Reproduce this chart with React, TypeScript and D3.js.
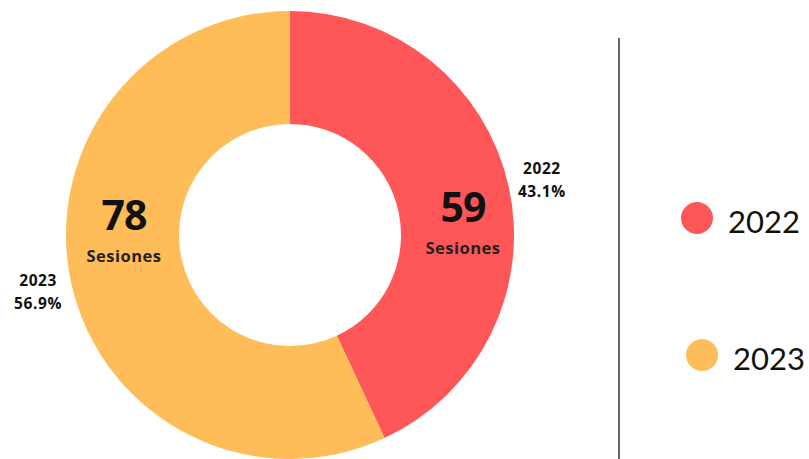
import React from 'react';
import * as d3 from 'd3';

const years = ['2022', '2023'];
const sessions = [59, 78];
const colors = ['#FF5757', '#FFBD59'];
const unitLabel = 'Sesiones';

interface Slice {
  year: string;
  value: number;
  color: string;
}

const slices: Slice[] = years.map((y, i) => ({ year: y, value: sessions[i], color: colors[i] }));

export default function App() {
  const width = 809;
  const height = 459;
  const cx = 290;
  const cy = 235;
  const outerR = 224;
  const innerR = 111;

  const pie = d3.pie<Slice>().value(d => d.value).sort(null);
  const arcs = pie(slices);
  const arc = d3.arc<d3.PieArcDatum<Slice>>().innerRadius(innerR).outerRadius(outerR);
  const labelArc = d3.arc<d3.PieArcDatum<Slice>>().innerRadius(258).outerRadius(258);
  const total = d3.sum(sessions);
  const pct = d3.format('.1f');

  // inner value labels sit near the horizontal middle of each ring side
  const innerPos = [
    { x: 463, y: 0 },
    { x: 124, y: 8 },
  ];

  const font = "'Open Sans', 'Noto Sans', sans-serif";

  return (
    <svg
      width={width}
      height={height}
      style={{ position: 'absolute', left: 0, top: 0, background: '#fff' }}
    >
      <g transform={`translate(${cx},${cy})`}>
        {arcs.map(a => (
          <path key={a.data.year} d={arc(a) as string} fill={a.data.color} />
        ))}
        {arcs.map(a => {
          const [lx, ly] = labelArc.centroid(a);
          return (
            <text
              key={'o' + a.data.year}
              textAnchor="middle"
              fontFamily={font}
              fontWeight={700}
              fontSize={15.5}
              fill="#111"
              style={{ letterSpacing: '0.6px' }}
            >
              <tspan x={lx} y={ly - 5}>{a.data.year}</tspan>
              <tspan x={lx} y={ly + 18}>{pct((a.data.value / total) * 100)}%</tspan>
            </text>
          );
        })}
      </g>
      {arcs.map((a, i) => (
        <g key={'i' + a.data.year} transform={`translate(${innerPos[i].x},${cy + innerPos[i].y})`}>
          <text
            y={-13}
            textAnchor="middle"
            fontFamily={font}
            fontWeight={700}
            fontSize={41}
            fill="#111"
            style={{ letterSpacing: '-1px' }}
          >
            {a.data.value}
          </text>
          <text
            y={19}
            textAnchor="middle"
            fontFamily={font}
            fontWeight={700}
            fontSize={16.5}
            fill="#222"
            style={{ letterSpacing: '0.5px' }}
          >
            {unitLabel}
          </text>
        </g>
      ))}
      <line x1={619} x2={619} y1={38} y2={459} stroke="#666" strokeWidth={2} />
      {slices.map((s, i) => {
        const ly = [218, 355][i];
        const lx = [697, 702][i];
        return (
          <g key={'l' + s.year}>
            <circle cx={lx} cy={ly} r={16} fill={s.color} />
            <text
              x={lx + 31}
              y={ly + 15}
              fontFamily="'Lato', 'Noto Sans', sans-serif"
              fontSize={31}
              fill="#111"
            >
              {s.year}
            </text>
          </g>
        );
      })}
    </svg>
  );
}
